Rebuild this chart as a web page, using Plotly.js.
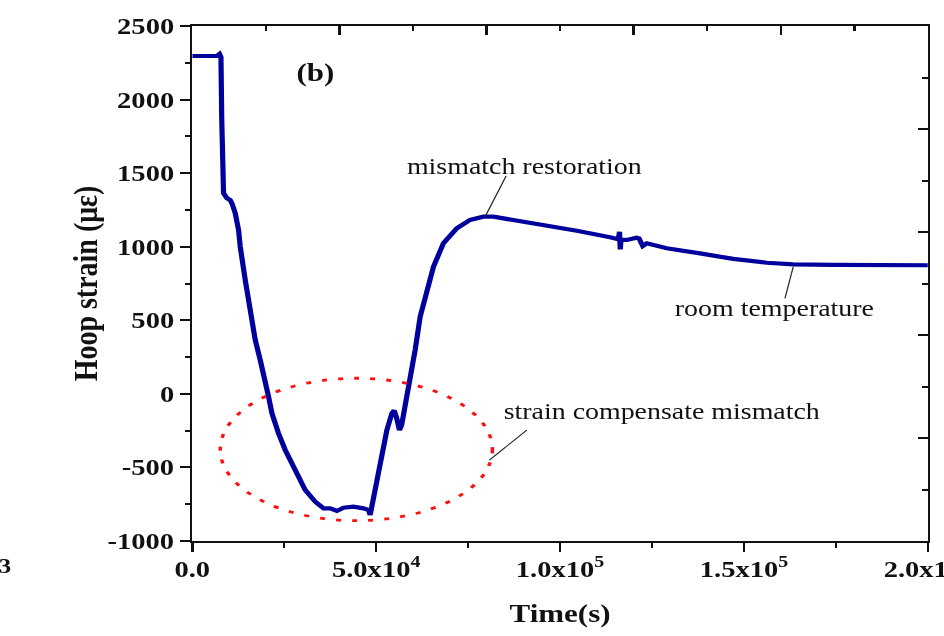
<!DOCTYPE html>
<html>
<head>
<meta charset="utf-8">
<script src="https://cdn.plot.ly/plotly-3.0.1.min.js"></script>
<style>
  html, body { margin: 0; padding: 0; background: #ffffff; overflow: hidden; width: 944px; height: 636px; }
  #chart { width: 761px; height: 636px; transform: scaleX(1.24047); transform-origin: 0 0; overflow: visible; }
  #chart .main-svg, #chart .svg-container { overflow: visible !important; }
</style>
</head>
<body>
<div id="chart"></div>
<script>
// ---- data ----
const timeS = [0, 6700, 7418, 7799, 8016, 8234, 8342, 8505, 9429, 10326, 10788, 11223, 11685, 12582, 13043,
  14402, 15761, 17120, 18478, 19837, 20734, 21658, 22554, 23451, 25272, 26630, 28451, 30707, 33424, 35679,
  37500, 39321, 41114, 43832, 46549, 47908, 48370, 48832, 50190, 51549, 52908, 54266, 54891, 55571, 56332,
  56929, 57609, 59239, 60598, 61957, 63777, 65571, 68288, 71929, 75543, 79158, 81875, 86413, 95462, 104538,
  113587, 115842, 116168, 116359, 116576, 118125, 120842, 121467, 122473, 123560, 128995, 138043, 147092,
  156168, 163397, 174266, 200000];
const hoopStrain = [2296, 2296, 2310, 2289, 1861, 1453, 1385, 1363, 1329, 1317, 1295, 1261, 1227, 1114, 1000,
  774, 547, 366, 230, 94, -19, -132, -212, -268, -381, -449, -540, -653, -733, -778,
  -778, -796, -774, -767, -778, -789, -823, -767, -585, -395, -246, -132, -113, -164, -246,
  -212, -123, 108, 298, 524, 706, 864, 1023, 1125, 1182, 1204, 1204, 1186, 1148, 1109,
  1064, 1050, 1102, 982, 1046, 1046, 1061, 1057, 1005, 1023, 989, 955, 917,
  891, 880, 876, 874];

const xTickVals = [0, 50000, 100000, 150000, 200000];
const xTickText = ['0.0', '5.0x10<sup>4</sup>', '1.0x10<sup>5</sup>', '1.5x10<sup>5</sup>', '2.0x10<sup>5</sup>'];
const yTickVals = [-1000, -500, 0, 500, 1000, 1500, 2000, 2500];
const yTickText = ['-1000', '-500', '0', '500', '1000', '1500', '2000', '2500'];

const noteTexts = ['(b)', 'mismatch restoration', 'room temperature', 'strain compensate mismatch'];

// ---- styling ----
const serif = 'Liberation Serif, Times New Roman, serif';
const axisColor = '#111111';
const lineBlue = '#00009c';

const traces = [
  {
    x: timeS, y: hoopStrain, type: 'scatter', mode: 'lines',
    line: { color: lineBlue, width: 4.2 },
    hoverinfo: 'skip', showlegend: false
  },
  {
    x: timeS, y: hoopStrain, type: 'scatter', mode: 'lines',
    xaxis: 'x2', yaxis: 'y2', opacity: 0,
    line: { color: 'rgba(0,0,0,0)', width: 0.1 },
    hoverinfo: 'skip', showlegend: false
  }
];

const layout = {
  width: 761, height: 636,
  margin: { l: 155, r: 13, t: 26, b: 95 },
  paper_bgcolor: '#ffffff', plot_bgcolor: '#ffffff',
  font: { family: serif, color: axisColor },
  showlegend: false,
  xaxis: {
    range: [0, 200000], tickmode: 'array', tickvals: xTickVals, ticktext: xTickText,
    ticks: 'outside', ticklen: 9, tickwidth: 2, tickcolor: axisColor,
    minor: { tickmode: 'linear', tick0: 0, dtick: 25000, ticks: 'outside', ticklen: 5, tickwidth: 2, tickcolor: axisColor },
    showline: true, linecolor: axisColor, linewidth: 2, mirror: true,
    showgrid: false, zeroline: false,
    tickfont: { family: serif, size: 23, weight: 'bold', color: axisColor },
    ticklabelstandoff: -3, ticklabeloverflow: 'allow',
    title: { text: 'Time(s)', font: { family: serif, size: 25, weight: 'bold', color: axisColor }, standoff: 24 }
  },
  yaxis: {
    range: [-1000, 2500], tickmode: 'array', tickvals: yTickVals, ticktext: yTickText,
    ticks: 'outside', ticklen: 8, tickwidth: 2, tickcolor: axisColor,
    minor: { tickmode: 'linear', tick0: -1000, dtick: 250, ticks: 'outside', ticklen: 4, tickwidth: 2, tickcolor: axisColor },
    showline: true, linecolor: axisColor, linewidth: 2, mirror: true,
    showgrid: false, zeroline: false,
    tickfont: { family: serif, size: 23, weight: 'bold', color: axisColor },
    ticklabelstandoff: 0,
    title: { text: 'Hoop strain (με)', font: { family: serif, size: 28, weight: 'bold', color: axisColor }, standoff: 0 }
  },
  xaxis2: {
    overlaying: 'x', side: 'top', anchor: 'y2', range: [0, 200000],
    tickmode: 'linear', tick0: 0, dtick: 40000,
    ticks: 'inside', ticklen: 9, tickwidth: 2, tickcolor: axisColor,
    minor: { tickmode: 'linear', tick0: 0, dtick: 20000, ticks: 'inside', ticklen: 5, tickwidth: 2, tickcolor: axisColor },
    showticklabels: false, showline: false,
    showgrid: false, zeroline: false
  },
  yaxis2: {
    overlaying: 'y', side: 'right', anchor: 'x2', range: [-1000, 2500],
    tickmode: 'linear', tick0: -1000, dtick: 700,
    ticks: 'inside', ticklen: 8, tickwidth: 2, tickcolor: axisColor,
    minor: { tickmode: 'linear', tick0: -1000, dtick: 350, ticks: 'inside', ticklen: 5, tickwidth: 2, tickcolor: axisColor },
    showticklabels: false, showline: false,
    showgrid: false, zeroline: false
  },
  shapes: [
    { type: 'circle', xref: 'x', yref: 'y', x0: 7609, x1: 81603, y0: -862, y1: 106,
      line: { color: '#ff1010', width: 2.8, dash: '4px,9px' } },
    { type: 'line', xref: 'x', yref: 'y', x0: 85326, y0: 1481, x1: 79620, y1: 1204, line: { color: '#222222', width: 1 } },
    { type: 'line', xref: 'x', yref: 'y', x0: 163397, y0: 864, x1: 161141, y1: 649, line: { color: '#222222', width: 1 } },
    { type: 'line', xref: 'x', yref: 'y', x0: 90951, y0: -246, x1: 80788, y1: -450, line: { color: '#222222', width: 1 } }
  ],
  annotations: [
    { text: noteTexts[0], x: 33400, y: 2180, xref: 'x', yref: 'y', showarrow: false,
      font: { family: serif, size: 25, weight: 'bold', color: '#111111' } },
    { text: noteTexts[1], x: 90200, y: 1542, xref: 'x', yref: 'y', showarrow: false,
      font: { family: serif, size: 22.5, color: '#111111' } },
    { text: noteTexts[2], x: 158400, y: 577, xref: 'x', yref: 'y', showarrow: false,
      font: { family: serif, size: 22.5, color: '#111111' } },
    { text: noteTexts[3], x: 127600, y: -123, xref: 'x', yref: 'y', showarrow: false,
      font: { family: serif, size: 22.5, color: '#111111' } },
    { text: '3', x: -0.254, y: -0.0485, xref: 'paper', yref: 'paper', showarrow: false,
      xanchor: 'center', yanchor: 'middle',
      font: { family: serif, size: 20, weight: 'bold', color: '#111111' } }
  ]
};

Plotly.newPlot('chart', traces, layout, { staticPlot: true, displayModeBar: false, responsive: false });
</script>
</body>
</html>
